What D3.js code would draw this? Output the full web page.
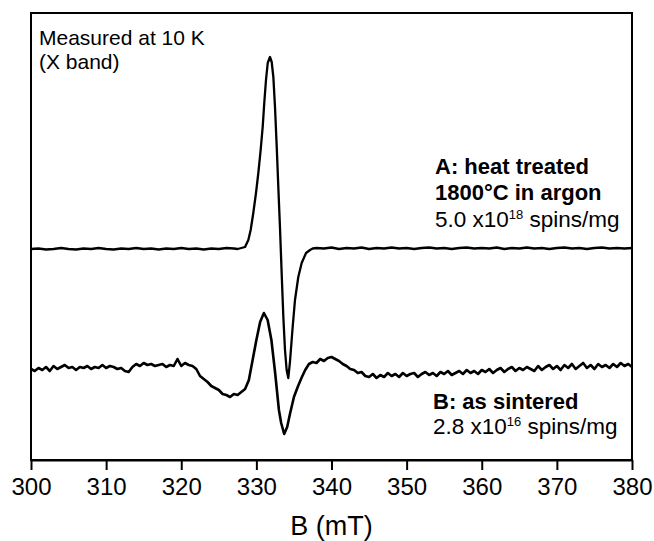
<!DOCTYPE html>
<html>
<head>
<meta charset="utf-8">
<script src="https://cdn.jsdelivr.net/npm/d3@7"></script>
<style>
  html, body { margin: 0; padding: 0; background: #fff; }
  svg { display: block; font-family: "Liberation Sans", Arial, sans-serif; }
</style>
</head>
<body>
<svg id="chart" width="654" height="541"></svg>
<script>
// ---- data ----
const xTicks = [300, 310, 320, 330, 340, 350, 360, 370, 380];
const xLabel = "B (mT)";

// Spectrum A (heat treated): [field mT, signal a.u.]
const offsetA = 211;
const spectrumA = [
  [300,0],[301,0.5],[302,-0.5],[303,0],[304,1],[305,0],[306,-0.5],[307,0.5],[308,0],[309,1],
  [310,0],[311,-0.5],[312,0.5],[313,0],[314,1],[315,0],[316,0.5],[317,-0.5],[318,0.5],[319,0],
  [320,1],[321,0],[322,0.5],[323,-0.5],[324,0.5],[325,0],[326,1],[327,0.5],[327.5,0],[328,1],
  [328.49,2],[328.93,9],[329.24,19],[329.59,36],[329.95,56],[330.26,76],[330.57,99],[330.84,122],
  [331.05,146],[331.28,169],[331.51,186],[331.81,192],[332.04,187],[332.26,172],[332.48,142],
  [332.71,102],[332.92,62],[333.14,22],[333.37,-25],[333.59,-68],[333.81,-101],[334.03,-121],
  [334.25,-129],[334.47,-113],[334.83,-78],[335.14,-51],[335.58,-28],[336.03,-14],[336.61,-4],
  [337.14,-1],[337.5,0.5],[338,1],[339,0.5],[340,1.5],[341,0],[342,1],[343,0.5],[344,1.5],[345,0],
  [346,1],[347,0.5],[348,1.5],[349,0.5],[350,1],[351,0],[352,1],[353,1.5],[354,0.5],[355,1],
  [356,0],[357,1],[358,1.5],[359,0.5],[360,1],[361,0.5],[362,1.5],[363,0],[364,1],[365,0.5],
  [366,1.5],[367,0.5],[368,1],[369,0],[370,1],[371,1.5],[372,0.5],[373,1],[374,0],[375,1],
  [376,1.5],[377,0.5],[378,1],[379,0.5],[380,1]
];

// Spectrum B (as sintered): [field mT, signal a.u.]
const offsetB = 90;
const spectrumB = [
  [300,1],[300.5,-1],[301,2],[301.5,0],[302,3],[302.5,-1],[303,4],[303.5,1],[304,3],[304.5,5],
  [305,2],[305.5,3],[306,0],[306.5,3],[307,2],[307.5,4],[308,1],[308.5,3],[309,2],[309.5,5],
  [310,2],[310.5,4],[311,3],[311.5,1],[312,2],[312.5,-1],[313,-2],[313.5,3],[314,6],[314.5,4],
  [315,7],[315.5,5],[316,6],[316.5,4],[317,5],[317.5,6],[318,3],[318.5,5],[319,4],[319.5,11],
  [320,4],[320.5,7],[321,5],[321.5,4],[322,1],[322.5,-6],[323,-9],[323.5,-12],[324,-16],[324.5,-18],
  [325,-20],[325.5,-24],[326,-25],[326.5,-27],[327,-24],[327.5,-25],[328,-22],[328.5,-19],[329,-10],[329.5,10],
  [330,30],[330.5,48],[331,57],[331.5,50],[332,30],[332.5,-3],[333,-40],[333.3,-53],[333.7,-64],[334.1,-57],[334.5,-43],
  [335,-27],[335.5,-17],[336,-8],[336.5,0],[337,6],[337.5,8],[338,7],[338.5,11],[339,9],[339.5,12],
  [340,13],[340.5,11],[341,9],[341.5,6],[342,4],[342.5,1],[343,0],[343.5,-3],[344,-2],[344.5,-6],
  [345,-7],[345.5,-4],[346,-8],[346.5,-5],[347,-7],[347.5,-3],[348,-6],[348.5,-4],[349,-7],[349.5,-3],
  [350,-6],[350.5,-4],[351,-3],[351.5,-7],[352,-4],[352.5,-2],[353,-5],[353.5,-3],[354,-6],[354.5,-2],
  [355,-4],[355.5,-1],[356,-5],[356.5,-3],[357,-1],[357.5,-4],[358,0],[358.5,-3],[359,-1],[359.5,-4],
  [360,0],[360.5,-2],[361,1],[361.5,-3],[362,0],[362.5,2],[363,-2],[363.5,1],[364,3],[364.5,-1],
  [365,2],[365.5,0],[366,3],[366.5,1],[367,-1],[367.5,4],[368,0],[368.5,3],[369,5],[369.5,1],
  [370,4],[370.5,0],[371,5],[371.5,2],[372,6],[372.5,1],[373,4],[373.5,7],[374,2],[374.5,5],
  [375,1],[375.5,6],[376,3],[376.5,5],[377,2],[377.5,6],[378,3],[378.5,7],[379,4],[379.5,6],[380,3]
];

// ---- layout ----
const svg = d3.select("#chart");
const L = 31, R = 632, T = 13, B = 460;

const x = d3.scaleLinear().domain([300, 380]).range([L, R]);
const y = d3.scaleLinear().domain([0, 447]).range([B, T]);

const line = (off) => d3.line()
  .x(d => x(d[0]))
  .y(d => y(d[1] + off));

svg.append("path")
  .datum(spectrumA)
  .attr("fill", "none").attr("stroke", "#000").attr("stroke-width", 2.3)
  .attr("stroke-linejoin", "round")
  .attr("d", line(offsetA));

svg.append("path")
  .datum(spectrumB)
  .attr("fill", "none").attr("stroke", "#000").attr("stroke-width", 2.6)
  .attr("stroke-linejoin", "round")
  .attr("d", line(offsetB));

// frame
svg.append("rect")
  .attr("x", L).attr("y", T).attr("width", R - L).attr("height", B - T)
  .attr("fill", "none").attr("stroke", "#000").attr("stroke-width", 2);

// bottom axis
const ax = svg.append("g")
  .attr("transform", `translate(0,${B})`)
  .call(d3.axisBottom(x).tickValues(xTicks).tickSize(10).tickSizeOuter(0).tickPadding(8));
ax.select(".domain").attr("stroke-width", 2);
ax.selectAll(".tick line").attr("stroke-width", 2);
ax.selectAll(".tick text")
  .attr("font-size", 24).attr("fill", "#000")
  .attr("font-family", "'Liberation Sans', Arial, sans-serif");

svg.append("text")
  .attr("x", (L + R) / 2).attr("y", 535)
  .attr("text-anchor", "middle").attr("font-size", 27)
  .text(xLabel);

// annotations
const note = svg.append("g").attr("font-size", 21).attr("fill", "#000");
note.append("text").attr("x", 39).attr("y", 45).text("Measured at 10 K");
note.append("text").attr("x", 39).attr("y", 69).text("(X band)");

const labA = svg.append("g").attr("font-size", 22);
labA.append("text").attr("x", 435).attr("y", 174).attr("font-weight", "bold").text("A: heat treated");
labA.append("text").attr("x", 435).attr("y", 200).attr("font-weight", "bold").text("1800°C in argon");
const tA = labA.append("text").attr("x", 435).attr("y", 227).attr("font-size", 22.5);
tA.append("tspan").text("5.0 x10");
tA.append("tspan").attr("font-size", 13).attr("dy", -8).text("18");
tA.append("tspan").attr("dy", 8).text(" spins/mg");

const labB = svg.append("g").attr("font-size", 22);
labB.append("text").attr("x", 433).attr("y", 409).attr("font-weight", "bold").text("B: as sintered");
const tB = labB.append("text").attr("x", 433).attr("y", 434).attr("font-size", 22.5);
tB.append("tspan").text("2.8 x10");
tB.append("tspan").attr("font-size", 13).attr("dy", -8).text("16");
tB.append("tspan").attr("dy", 8).text(" spins/mg");
</script>
</body>
</html>
